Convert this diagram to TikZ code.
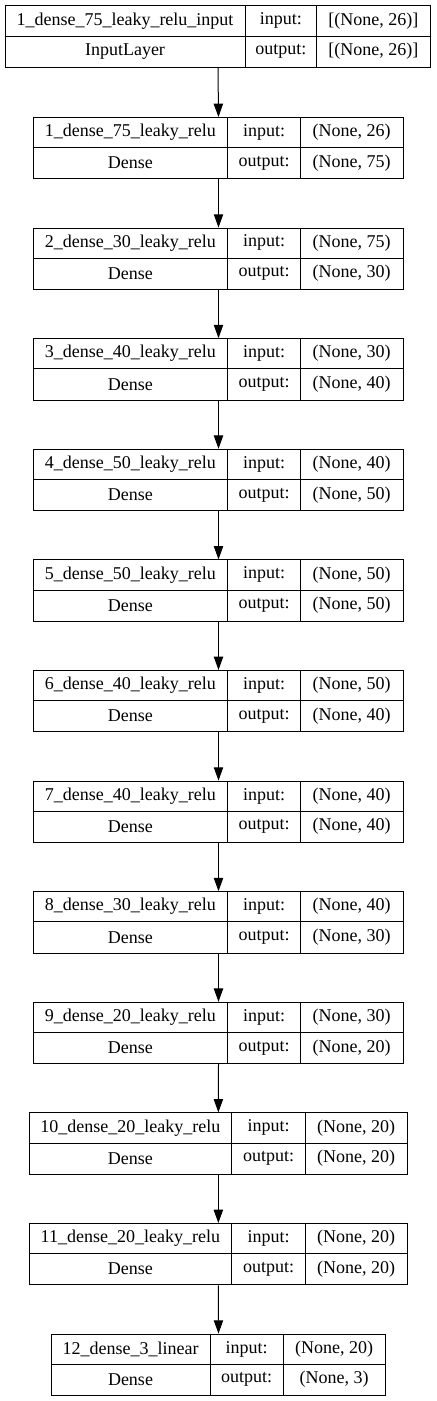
\documentclass[tikz,border=0pt]{standalone}
\usepackage{fontspec}
\setmainfont{Liberation Serif}
\usetikzlibrary{arrows.meta}

\tikzset{
  layerbox/.style={draw, line width=0.75pt, inner sep=0pt, anchor=north west},
  cell/.style={inner sep=0pt, font=\fontsize{13.5pt}{15pt}\selectfont},
  flow/.style={line width=0.75pt, -{Triangle[length=10pt,width=7pt]}}
}

\begin{document}
\begin{tikzpicture}[x=0.75pt,y=-0.75pt]

\useasboundingbox (0,0) rectangle (436,1401);

% input layer
\node[layerbox, minimum width={425*0.75pt}, minimum height={61.4*0.75pt}] (b0) at (5,5.5) {};
\draw[line width=0.75pt] (5,36.2)--(430,36.2);
\draw[line width=0.75pt] (245,5.5)--(245,66.9);
\draw[line width=0.75pt] (316.7,5.5)--(316.7,66.9);
\node[cell] (t0) at (125,20.85) {1\_dense\_75\_leaky\_relu\_input};
\node[cell] (k0) at (125,51.55) {InputLayer};
\node[cell] (i0) at (280.85,20.85) {input:};
\node[cell] (o0) at (280.85,51.55) {output:};
\node[cell] (iv0) at (373.35,20.85) {[(None, 26)]};
\node[cell] (ov0) at (373.35,51.55) {[(None, 26)]};

% dense layers
\foreach \n/\l/\da/\db/\r/\ttl/\inp/\outp in {
  1/33.3/227.3/300.7/402.7/1\_dense\_75\_leaky\_relu/26/75,
  2/33.3/227.3/300.7/402.7/2\_dense\_30\_leaky\_relu/75/30,
  3/33.3/227.3/300.7/402.7/3\_dense\_40\_leaky\_relu/30/40,
  4/33.3/227.3/300.7/402.7/4\_dense\_50\_leaky\_relu/40/50,
  5/33.3/227.3/300.7/402.7/5\_dense\_50\_leaky\_relu/50/50,
  6/33.3/227.3/300.7/402.7/6\_dense\_40\_leaky\_relu/50/40,
  7/33.3/227.3/300.7/402.7/7\_dense\_40\_leaky\_relu/40/40,
  8/33.3/227.3/300.7/402.7/8\_dense\_30\_leaky\_relu/40/30,
  9/33.3/227.3/300.7/402.7/9\_dense\_20\_leaky\_relu/30/20,
  10/29/231.7/305.3/406.7/10\_dense\_20\_leaky\_relu/20/20,
  11/29/231.7/305.3/406.7/11\_dense\_20\_leaky\_relu/20/20,
  12/51/210/283.3/385/12\_dense\_3\_linear/20/3}{
  \pgfmathsetmacro{\tp}{117+(\n-1)*110.6}
  \pgfmathsetmacro{\md}{\tp+30.7}
  \pgfmathsetmacro{\bt}{\tp+61.4}
  \node[layerbox, minimum width={(\r-\l)*0.75pt}, minimum height={61.4*0.75pt}] (b\n) at (\l,\tp) {};
  \draw[line width=0.75pt] (\l,\md)--(\r,\md);
  \draw[line width=0.75pt] (\da,\tp)--(\da,\bt);
  \draw[line width=0.75pt] (\db,\tp)--(\db,\bt);
  \node[cell] (t\n) at ({(\l+\da)/2},{\tp+15.35}) {\ttl};
  \node[cell] (k\n) at ({(\l+\da)/2},{\md+15.35}) {Dense};
  \node[cell] (i\n) at ({(\da+\db)/2},{\tp+15.35}) {input:};
  \node[cell] (o\n) at ({(\da+\db)/2},{\md+15.35}) {output:};
  \node[cell] (iv\n) at ({(\db+\r)/2},{\tp+15.35}) {(None, \inp)};
  \node[cell] (ov\n) at ({(\db+\r)/2},{\md+15.35}) {(None, \outp)};
}

% connectors
\foreach \a [evaluate=\a as \b using int(\a+1)] in {0,...,11}
  \draw[flow] (b\a.south) -- (b\b.north);

\end{tikzpicture}
\end{document}
